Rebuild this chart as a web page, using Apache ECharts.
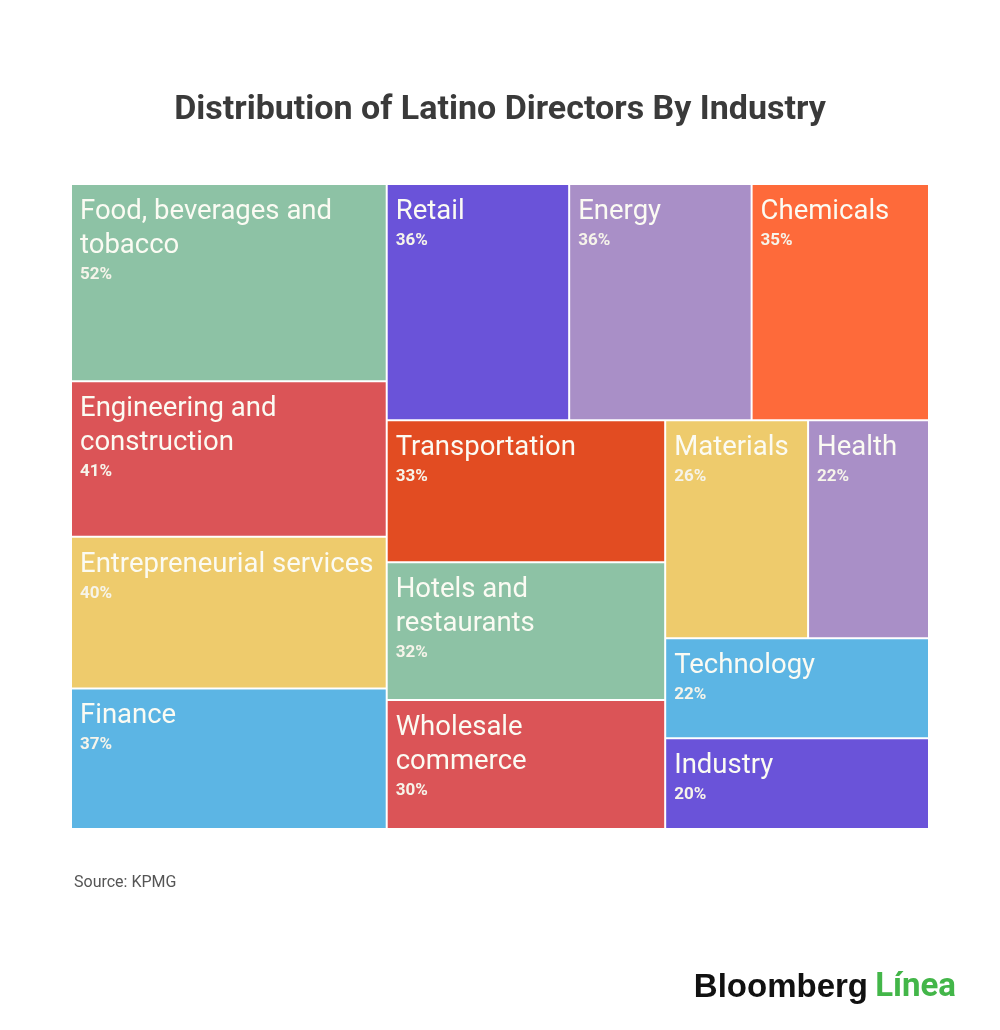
<!DOCTYPE html>
<html><head><meta charset="utf-8">
<script src="https://cdn.jsdelivr.net/npm/echarts@6/dist/echarts.min.js"></script>
<style>html,body{margin:0;padding:0;background:#fff}#c{width:1000px;height:1030px}</style>
</head><body><div id="c"></div>
<script>
const categories = ["Food, beverages and tobacco","Engineering and construction","Entrepreneurial services","Finance","Retail","Energy","Chemicals","Transportation","Hotels and restaurants","Wholesale commerce","Materials","Health","Technology","Industry"];
const displayNames = ["Food, beverages and\ntobacco","Engineering and\nconstruction","Entrepreneurial services","Finance","Retail","Energy","Chemicals","Transportation","Hotels and\nrestaurants","Wholesale\ncommerce","Materials","Health","Technology","Industry"];
const values = [52,41,40,37,36,36,35,33,32,30,26,22,22,20];
const palette = ["#8dc2a5","#db5457","#eecb6c","#5cb5e4","#6a53d9","#a98fc7","#fe6a3a","#e24c22","#8dc2a5","#db5457","#eecb6c","#a98fc7","#5cb5e4","#6a53d9"];

const chart = echarts.init(document.getElementById('c'), null, {renderer:'canvas'});
chart.setOption({
  backgroundColor:'#ffffff',
  animation:false,
  title:{text:'Distribution of Latino Directors By Industry', left:'center', top:88,
    textStyle:{fontFamily:'Roboto', fontSize:34, fontWeight:'bold', color:'#3a3a3a'}},
  graphic:[
    {type:'text', left:74, top:875, style:{text:'Source: KPMG', font:'16px Roboto', fill:'#555555'}},
    {type:'text', right:132, top:971, style:{text:'Bloomberg', font:'bold 33px "Liberation Sans"', fill:'#111111'}},
    {type:'text', right:44, top:971, style:{text:'Línea', font:'bold 33px Roboto', fill:'#43b649'}}
  ],
  series:[{
    type:'treemap', left:72, top:185, width:856, height:643,
    roam:false, nodeClick:false, breadcrumb:{show:false}, sort:false,
    itemStyle:{gapWidth:2, borderWidth:0, borderColor:'#fff'},
    label:{show:true, position:'insideTopLeft', distance:0, padding:[10,8,0,8], overflow:'none',
      formatter:p=>'{n|'+p.data.display+'}\n{v|'+p.value+'%}',
      rich:{n:{fontFamily:'Roboto', fontSize:27.5, lineHeight:34, color:'#fbfbf3'},
            v:{fontFamily:'Roboto', fontSize:17, fontWeight:'bold', lineHeight:23, color:'#f6f4ea'}}},
    emphasis:{disabled:true},
    data: categories.map((n,i)=>({name:n, display:displayNames[i], value:values[i], itemStyle:{color:palette[i]}}))
  }]
});
</script></body></html>
